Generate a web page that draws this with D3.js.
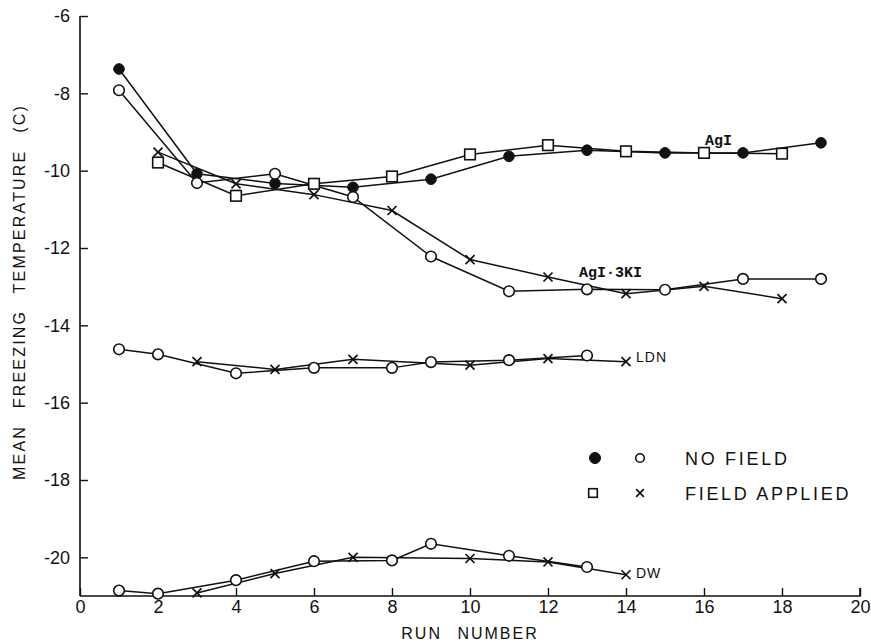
<!DOCTYPE html>
<html>
<head>
<meta charset="utf-8">
<script src="https://cdn.jsdelivr.net/npm/d3@7/dist/d3.min.js"></script>
<style>
  html, body { margin: 0; padding: 0; background: #fff; }
  svg { display: block; }
  text { fill: #111; }
</style>
</head>
<body>
<svg id="chart" width="871" height="643"></svg>
<script>
// ---- data ----
const xTicks = [0, 2, 4, 6, 8, 10, 12, 14, 16, 18, 20];
const yTicks = [-6, -8, -10, -12, -14, -16, -18, -20];

const runsOdd  = [1, 3, 5, 7, 9, 11, 13, 15, 17, 19];
const runsEven = [2, 4, 6, 8, 10, 12, 14, 16, 18];

const agiNoField    = [-7.37, -10.08, -10.33, -10.43, -10.22, -9.63, -9.47, -9.54, -9.54, -9.28];
const agiField      = [-9.79, -10.65, -10.34, -10.15, -9.58, -9.34, -9.50, -9.54, -9.56];
const agi3kiNoField = [-7.92, -10.32, -10.08, -10.68, -12.22, -13.12, -13.07, -13.08, -12.80, -12.80];
const agi3kiField   = [-9.52, -10.34, -10.62, -11.03, -12.30, -12.75, -13.18, -12.99, -13.31];

const ldnRunsNoField = [1, 2, 4, 6, 8, 9, 11, 13];
const ldnNoField     = [-14.62, -14.75, -15.24, -15.10, -15.10, -14.95, -14.90, -14.78];
const ldnRunsField   = [3, 5, 7, 10, 12, 14];
const ldnField       = [-14.94, -15.14, -14.88, -15.03, -14.86, -14.94];

const dwRunsNoField = [1, 2, 4, 6, 8, 9, 11, 13];
const dwNoField     = [-20.86, -20.94, -20.59, -20.10, -20.08, -19.65, -19.96, -20.25];
const dwRunsField   = [3, 5, 7, 10, 12, 14];
const dwField       = [-20.92, -20.42, -20.00, -20.03, -20.12, -20.45];

const legendLabels = ["NO FIELD", "FIELD APPLIED"];

// ---- chart ----
const svg = d3.select("#chart");
const x = d3.scaleLinear().domain([0, 20]).range([80, 860]);
const y = d3.scaleLinear().domain([-21, -6]).range([596, 16]);

const zip = (xs, ys) => xs.map((r, i) => ({ r, v: ys[i] }));
const series = [
  { pts: zip(runsOdd, agiNoField), mark: "filled" },
  { pts: zip(runsEven, agiField), mark: "square" },
  { pts: zip(runsOdd, agi3kiNoField), mark: "open" },
  { pts: zip(runsEven, agi3kiField), mark: "x" },
  { pts: zip(ldnRunsNoField, ldnNoField), mark: "open" },
  { pts: zip(ldnRunsField, ldnField), mark: "x" },
  { pts: zip(dwRunsNoField, dwNoField), mark: "open" },
  { pts: zip(dwRunsField, dwField), mark: "x" }
];

// axes
const fontSans = "'Liberation Sans', Arial, sans-serif";
const xAxis = d3.axisBottom(x).tickValues(xTicks).tickSize(-8).tickPadding(4)
  .tickFormat(d3.format("d"));
const yAxis = d3.axisLeft(y).tickValues(yTicks).tickSize(-8).tickPadding(10)
  .tickFormat(d => String(d).replace("\u2212", "-"));

const gx = svg.append("g").attr("transform", `translate(0,${y(-21)})`).call(xAxis);
const gy = svg.append("g").attr("transform", `translate(${x(0)},0)`).call(yAxis);
[gx, gy].forEach(g => {
  g.select(".domain").attr("stroke", "#111").attr("stroke-width", 1.6);
  g.selectAll(".tick line").attr("stroke", "#111").attr("stroke-width", 1.4);
  g.selectAll(".tick text").attr("font-family", fontSans).attr("font-size", 18).attr("fill", "#111");
});
gx.select(".domain").attr("d", `M${x(0)},0H${x(20)}V-8`);
gy.select(".domain").attr("d", `M0,${y(-6)}V${y(-21)}`);
gx.selectAll(".tick text").attr("y", 4).attr("dy", "0.71em");

// axis titles
svg.append("text")
  .attr("x", x(10)).attr("y", 639)
  .attr("text-anchor", "middle")
  .attr("font-family", fontSans).attr("font-size", 16)
  .attr("letter-spacing", 2).attr("word-spacing", 9)
  .text("RUN NUMBER");

svg.append("text")
  .attr("transform", `translate(25,${292}) rotate(-90)`)
  .attr("text-anchor", "middle")
  .attr("font-family", fontSans).attr("font-size", 16)
  .attr("letter-spacing", 2.2).attr("word-spacing", 10)
  .text("MEAN FREEZING TEMPERATURE (C)");

// lines
const line = d3.line().x(d => x(d.r)).y(d => y(d.v));
svg.append("g").selectAll("path").data(series).join("path")
  .attr("d", d => line(d.pts))
  .attr("fill", "none").attr("stroke", "#111").attr("stroke-width", 1.5);

// markers
function drawMark(g, type, cx, cy, s) {
  if (type === "filled") {
    g.append("circle").attr("cx", cx).attr("cy", cy).attr("r", s)
      .attr("fill", "#111").attr("stroke", "#111");
  } else if (type === "open") {
    g.append("circle").attr("cx", cx).attr("cy", cy).attr("r", s)
      .attr("fill", "#fff").attr("stroke", "#111").attr("stroke-width", 1.6);
  } else if (type === "square") {
    g.append("rect").attr("x", cx - s).attr("y", cy - s)
      .attr("width", 2 * s).attr("height", 2 * s)
      .attr("fill", "#fff").attr("stroke", "#111").attr("stroke-width", 1.6);
  } else if (type === "x") {
    const k = s * 0.85;
    g.append("path")
      .attr("d", `M${cx - k},${cy - k}L${cx + k},${cy + k}M${cx - k},${cy + k}L${cx + k},${cy - k}`)
      .attr("stroke", "#111").attr("stroke-width", 1.7).attr("fill", "none");
  }
}
const gm = svg.append("g");
series.forEach(s => s.pts.forEach(p => drawMark(gm, s.mark, x(p.r), y(p.v), 5.3)));

// curve labels
const fontMono = "'Liberation Mono', 'DejaVu Sans Mono', monospace";
svg.append("text").attr("x", 705).attr("y", 145)
  .attr("font-family", fontMono).attr("font-size", 15).attr("font-weight", "bold").text("AgI");
svg.append("text").attr("x", 579).attr("y", 277)
  .attr("font-family", fontMono).attr("font-size", 15).attr("font-weight", "bold").text("AgI\u00B73KI");
svg.append("text").attr("x", 636).attr("y", 362)
  .attr("font-family", fontSans).attr("font-size", 14).attr("letter-spacing", 1).text("LDN");
svg.append("text").attr("x", 636).attr("y", 578)
  .attr("font-family", fontSans).attr("font-size", 14).attr("letter-spacing", 1).text("DW");

// legend
const gl = svg.append("g");
drawMark(gl, "filled", 595, 458, 5.5);
drawMark(gl, "open", 640, 458, 4.3);
drawMark(gl, "square", 593, 493, 4.3);
drawMark(gl, "x", 640, 493, 4.5);
gl.selectAll("text.lg").data(legendLabels).join("text")
  .attr("class", "lg")
  .attr("x", 685).attr("y", (d, i) => 465 + i * 35)
  .attr("font-family", fontSans).attr("font-size", 18)
  .attr("letter-spacing", 2.7)
  .text(d => d);
</script>
</body>
</html>
